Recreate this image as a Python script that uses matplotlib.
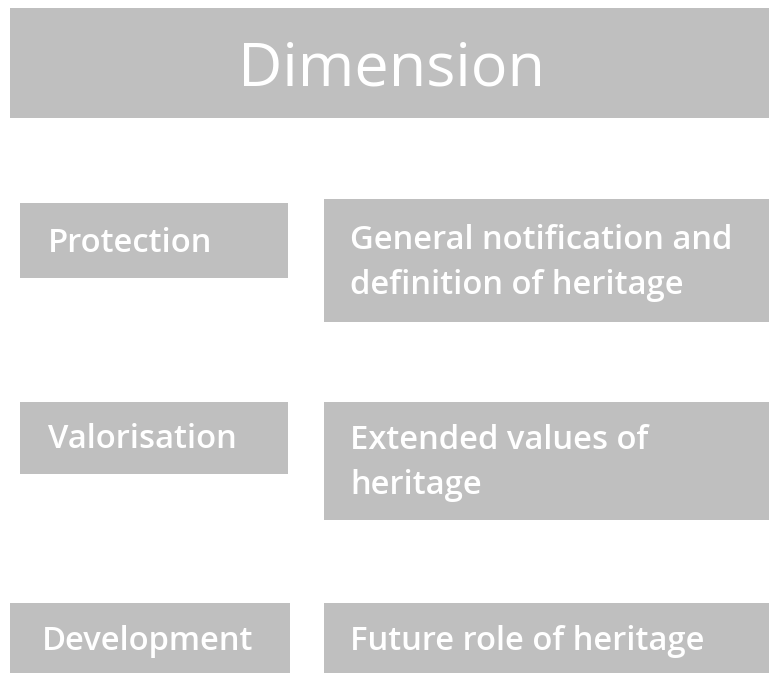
import matplotlib
matplotlib.use("Agg")
import matplotlib.pyplot as plt
from matplotlib.patches import Rectangle

title = "Dimension"
dimensions = ["Protection", "Valorisation", "Development"]
descriptions = ["General notification and\ndefinition of heritage",
                "Extended values of\nheritage",
                "Future role of heritage"]

GRAY = "#BFBFBF"
W, H = 769, 673
fig = plt.figure(figsize=(W / 100, H / 100), dpi=100)
ax = fig.add_axes([0, 0, 1, 1])
ax.set_xlim(0, W)
ax.set_ylim(H, 0)
ax.axis("off")

FONT = "Open Sans"

def box(x0, y0, x1, y1):
    ax.add_patch(Rectangle((x0, y0), x1 - x0, y1 - y0, facecolor=GRAY, edgecolor="none"))

# title
box(10, 8, 769, 118)
ax.text(391, 69, title, ha="center", va="center", color="white", fontsize=44, family=FONT)

left_boxes = [(20, 203, 288, 278), (20, 402, 288, 474), (10, 603, 290, 673)]
right_boxes = [(324, 199, 769, 322), (324, 402, 769, 520), (324, 603, 769, 673)]
left_text = [(48, 243), (48, 440), (42, 642)]
right_text = [(350, 263), (350, 463), (350, 642)]

for lb, rb, lt, rt, d, desc in zip(left_boxes, right_boxes, left_text, right_text,
                                   dimensions, descriptions):
    box(*lb)
    box(*rb)
    ax.text(lt[0], lt[1], d, ha="left", va="center", color="white", fontsize=23.6,
            family=FONT, fontweight="semibold")
    ax.text(rt[0], rt[1], desc, ha="left", va="center", color="white", fontsize=23.6,
            family=FONT, fontweight="semibold", linespacing=1.47)

fig.savefig("out.png", dpi=100)
